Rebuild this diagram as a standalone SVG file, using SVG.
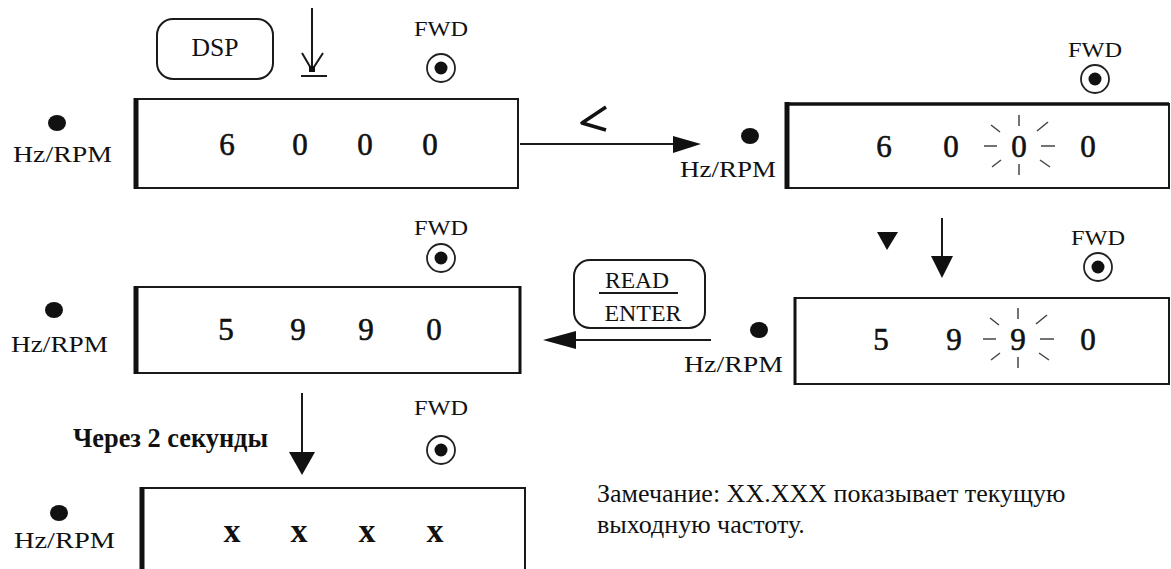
<svg xmlns="http://www.w3.org/2000/svg" width="1171" height="569" viewBox="0 0 1171 569">
<defs>
<style>
.lbl{font-family:"Liberation Serif","Times New Roman",serif;fill:#111}
.fwd{font-size:20px;text-anchor:middle}
.hz{font-size:23px}
.dig{font-size:31px;text-anchor:middle;stroke:#111;stroke-width:0.6}
.xx{font-size:34px;font-weight:bold;text-anchor:middle}
.box{fill:none;stroke:#1a1a1a;stroke-width:2}
.thick{stroke:#111;stroke-width:5}
.ray{stroke:#444;stroke-width:1.5}
.ln{stroke:#1a1a1a;stroke-width:2;fill:none}
.btn{fill:none;stroke:#1a1a1a;stroke-width:2}
</style>
<g id="fwdsym">
<circle cx="0" cy="0" r="14" fill="none" stroke="#222" stroke-width="1.8"/>
<circle cx="0" cy="0" r="6.5" fill="#111"/>
</g>
<g id="rays">
<line class="ray" x1="0" y1="-31" x2="0" y2="-20"/>
<line class="ray" x1="0" y1="18" x2="0" y2="29"/>
<line class="ray" x1="-35" y1="0" x2="-22" y2="0"/>
<line class="ray" x1="22" y1="0" x2="36" y2="0"/>
<line class="ray" x1="-28" y1="-21" x2="-19" y2="-14"/>
<line class="ray" x1="18" y1="-15" x2="29" y2="-24"/>
<line class="ray" x1="-27" y1="21" x2="-18" y2="14"/>
<line class="ray" x1="21" y1="14" x2="31" y2="21"/>
</g>
</defs>
<rect width="1171" height="569" fill="#fff"/>

<g id="connectors">
<line class="ln" x1="312" y1="8" x2="312" y2="70"/>
<polyline class="ln" points="302,53 312,70 323,53" stroke-width="2.5"/>
<rect x="309" y="66" width="6" height="6" fill="#111"/>
<line class="ln" x1="301" y1="76" x2="327" y2="76"/>
<line class="ln" x1="520" y1="144" x2="680" y2="144"/>
<polygon points="673,136 701,144 673,153" fill="#111"/>
<polyline points="606,107 582,123 606,130" fill="none" stroke="#111" stroke-width="3.5" stroke-linejoin="round"/>
<polygon points="877,232 898,232 887,250" fill="#111"/>
<line class="ln" x1="942" y1="218" x2="942" y2="262"/>
<polygon points="931,256 953,256 942,278" fill="#111"/>
<line class="ln" x1="711" y1="340" x2="570" y2="340"/>
<polygon points="576,331 576,349 543,340" fill="#111"/>
<line class="ln" x1="302" y1="393" x2="302" y2="458"/>
<polygon points="289,452 315,452 302,475" fill="#111"/>
</g>

<g id="dsp-button">
<rect class="btn" x="157" y="19" width="116" height="60" rx="16"/>
<text class="lbl" x="215" y="56" font-size="26" text-anchor="middle" textLength="47" lengthAdjust="spacingAndGlyphs">DSP</text>
</g>

<g id="read-enter-button">
<rect class="btn" x="574" y="260" width="131" height="68" rx="16"/>
<text class="lbl" x="637" y="288" font-size="24" text-anchor="middle" textLength="64" lengthAdjust="spacingAndGlyphs">READ</text>
<line class="ln" x1="599" y1="293" x2="678" y2="293"/>
<text class="lbl" x="643" y="321" font-size="24" text-anchor="middle" textLength="77" lengthAdjust="spacingAndGlyphs">ENTER</text>
</g>

<g id="display1">
<text class="lbl fwd" x="441" y="36" textLength="54" lengthAdjust="spacingAndGlyphs">FWD</text>
<use href="#fwdsym" x="441" y="68"/>
<ellipse cx="57" cy="123" rx="9" ry="8" fill="#111"/>
<text class="lbl hz" x="13" y="162" textLength="99" lengthAdjust="spacingAndGlyphs">Hz/RPM</text>
<rect class="box" x="136" y="99" width="382" height="89"/>
<line class="thick" x1="136" y1="98" x2="136" y2="189"/>
<text class="lbl dig" x="227" y="155">6</text>
<text class="lbl dig" x="300" y="155">0</text>
<text class="lbl dig" x="365" y="155">0</text>
<text class="lbl dig" x="430" y="155">0</text>
</g>

<g id="display2">
<text class="lbl fwd" x="1095" y="57" textLength="54" lengthAdjust="spacingAndGlyphs">FWD</text>
<use href="#fwdsym" x="1095" y="79"/>
<ellipse cx="750" cy="136" rx="9" ry="8" fill="#111"/>
<text class="lbl hz" x="680" y="177" textLength="96" lengthAdjust="spacingAndGlyphs">Hz/RPM</text>
<rect class="box" x="787" y="104" width="382" height="84" stroke-width="2.5"/>
<line class="thick" x1="787" y1="102" x2="787" y2="189"/>
<line x1="787" y1="104" x2="1169" y2="104" stroke="#111" stroke-width="3.5"/>
<text class="lbl dig" x="884" y="157">6</text>
<text class="lbl dig" x="951" y="157">0</text>
<text class="lbl dig" x="1019" y="157">0</text>
<use href="#rays" x="1019" y="146"/>
<text class="lbl dig" x="1088" y="157">0</text>
</g>

<g id="display4">
<text class="lbl fwd" x="1098" y="245" textLength="54" lengthAdjust="spacingAndGlyphs">FWD</text>
<use href="#fwdsym" x="1098" y="267"/>
<ellipse cx="759" cy="330" rx="9" ry="8" fill="#111"/>
<text class="lbl hz" x="684" y="372" textLength="99" lengthAdjust="spacingAndGlyphs">Hz/RPM</text>
<rect class="box" x="795" y="298" width="374" height="86"/>
<line x1="795" y1="297" x2="795" y2="385" stroke="#111" stroke-width="3"/>
<text class="lbl dig" x="881" y="350">5</text>
<text class="lbl dig" x="954" y="350">9</text>
<text class="lbl dig" x="1018" y="350">9</text>
<use href="#rays" x="1018" y="339"/>
<text class="lbl dig" x="1088" y="350">0</text>
</g>

<g id="display3">
<text class="lbl fwd" x="441" y="235" textLength="54" lengthAdjust="spacingAndGlyphs">FWD</text>
<use href="#fwdsym" x="441" y="258"/>
<ellipse cx="54" cy="310" rx="9" ry="8" fill="#111"/>
<text class="lbl hz" x="11" y="352" textLength="97" lengthAdjust="spacingAndGlyphs">Hz/RPM</text>
<rect class="box" x="136" y="287" width="384" height="86"/>
<line class="thick" x1="136" y1="286" x2="136" y2="374"/>
<line x1="520" y1="286" x2="520" y2="374" stroke="#111" stroke-width="3"/>
<text class="lbl dig" x="226" y="340">5</text>
<text class="lbl dig" x="298" y="340">9</text>
<text class="lbl dig" x="366" y="340">9</text>
<text class="lbl dig" x="434" y="340">0</text>
</g>

<g id="delay-label">
<text class="lbl" x="73" y="447" font-size="27" font-weight="bold" textLength="195" lengthAdjust="spacingAndGlyphs">Через 2 секунды</text>
</g>

<g id="display5">
<text class="lbl fwd" x="441" y="415" textLength="54" lengthAdjust="spacingAndGlyphs">FWD</text>
<use href="#fwdsym" x="441" y="450"/>
<ellipse cx="59" cy="513" rx="9" ry="8" fill="#111"/>
<text class="lbl hz" x="14" y="548" textLength="101" lengthAdjust="spacingAndGlyphs">Hz/RPM</text>
<path class="box" d="M142,575 V488 H525 V575"/>
<line class="thick" x1="142" y1="487" x2="142" y2="575"/>
<text class="lbl xx" x="232" y="542">x</text>
<text class="lbl xx" x="299" y="542">x</text>
<text class="lbl xx" x="367" y="542">x</text>
<text class="lbl xx" x="435" y="542">x</text>
</g>

<g id="note">
<text class="lbl" x="597" y="502" font-size="26">Замечание: XX.XXX показывает текущую</text>
<text class="lbl" x="597" y="533" font-size="26">выходную частоту.</text>
</g>
</svg>
